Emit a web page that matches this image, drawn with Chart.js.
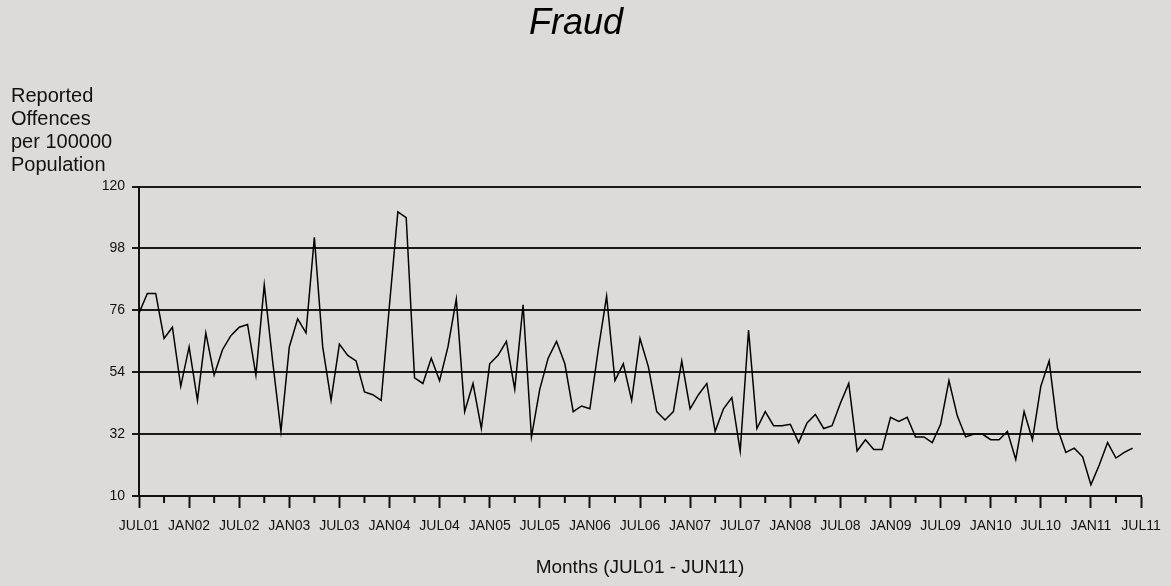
<!DOCTYPE html>
<html lang="en">

<head>
    <meta charset="UTF-8">
    <meta name="viewport" content="width=device-width, initial-scale=1.0">
    <title>Fraud</title>
    <style>
        body {
            margin: 0;
            background-color: #dcdbd9;
        }

        .chart-box {
            position: relative;
            width: 1171px;
            height: 586px;
        }
    </style>
</head>

<body>
    <div class="chart-box">
        <canvas id="myChart"></canvas>
    </div>

    <script src="https://cdn.jsdelivr.net/npm/chart.js"></script>
    <script>
        // monthly values JUL01 .. JUN11
        var offences = [
            75, 82, 82, 66, 70, 49, 63, 44, 68, 53,
            62, 67, 70, 71, 53, 85, 58, 33, 63, 73,
            68, 102, 63, 44, 64, 60, 58, 47, 46, 44,
            78, 111, 109, 52, 50, 59, 51, 63, 80, 40,
            50, 34, 57, 60, 65, 48, 78, 31, 48, 59,
            65, 57, 40, 42, 41, 62, 81, 51, 57, 44,
            66, 56, 40, 37, 40, 58, 41, 46, 50, 33,
            41, 45, 26, 69, 34, 40, 35, 35, 35.5, 29,
            36, 39, 34, 35, 43, 50, 26, 30, 26.5, 26.5,
            38, 36.5, 38, 31, 31, 29, 35.5, 51, 38.5, 31,
            32, 32, 30, 30, 33, 23, 40, 30, 49, 58,
            34, 25.5, 27, 24, 14, 21, 29, 23.5, 25.5, 27
        ];

        // labels under the long ticks, every 6 months
        var tickLabels = ['JUL01', 'JAN02', 'JUL02', 'JAN03', 'JUL03', 'JAN04', 'JUL04',
            'JAN05', 'JUL05', 'JAN06', 'JUL06', 'JAN07', 'JUL07', 'JAN08', 'JUL08',
            'JAN09', 'JUL09', 'JAN10', 'JUL10', 'JAN11', 'JUL11'];

        var yTicks = [10, 32, 54, 76, 98, 120];
        var yTitle = ['Reported', 'Offences', 'per 100000', 'Population'];

        var points = offences.map(function (v, i) {
            return { x: i, y: v };
        });

        Chart.defaults.font.family = "'Liberation Sans', Arial, sans-serif";
        Chart.defaults.color = '#111';

        // short ticks between the labelled ones
        const minorTicks = {
            id: 'minorTicks',
            afterDraw(chart) {
                const xs = chart.scales.x;
                const ctx = chart.ctx;
                const y0 = chart.chartArea.bottom;
                ctx.save();
                ctx.strokeStyle = '#111';
                ctx.lineWidth = 2;
                for (let m = 3; m < 120; m += 6) {
                    const px = xs.getPixelForValue(m);
                    ctx.beginPath();
                    ctx.moveTo(px, y0);
                    ctx.lineTo(px, y0 + 7);
                    ctx.stroke();
                }
                ctx.restore();
            }
        };

        const ctx = document.getElementById('myChart');
        const myChart = new Chart(ctx, {
            type: 'line',
            data: {
                datasets: [{
                    label: 'Fraud',
                    data: points,
                    borderColor: '#000',
                    borderWidth: 1.5,
                    pointRadius: 0,
                    tension: 0,
                    fill: false
                }]
            },
            options: {
                responsive: true,
                maintainAspectRatio: false,
                animation: false,
                layout: {
                    padding: { top: 4, left: 11, right: 30, bottom: 0 }
                },
                plugins: {
                    legend: { display: false },
                    tooltip: { enabled: false },
                    title: {
                        display: true,
                        text: 'Fraud',
                        color: '#000',
                        font: { size: 36, style: 'italic', weight: 'normal', lineHeight: 1.1 },
                        padding: { top: 0, bottom: 0 }
                    },
                    subtitle: {
                        display: true,
                        text: yTitle,
                        align: 'start',
                        color: '#111',
                        font: { size: 20, lineHeight: 1.15 },
                        padding: { top: 41, bottom: 10 }
                    }
                },
                scales: {
                    x: {
                        type: 'linear',
                        min: 0,
                        max: 120,
                        afterFit: function (scale) {
                            scale.height = 90;
                        },
                        ticks: {
                            stepSize: 6,
                            padding: 10,
                            maxRotation: 0,
                            autoSkip: false,
                            font: { size: 14 },
                            callback: function (value) {
                                return tickLabels[value / 6];
                            }
                        },
                        grid: {
                            drawOnChartArea: false,
                            drawTicks: true,
                            tickLength: 12,
                            tickColor: '#111',
                            tickWidth: 2
                        },
                        border: { display: true, color: '#111', width: 2 },
                        title: {
                            display: true,
                            text: 'Months (JUL01 - JUN11)',
                            font: { size: 19 },
                            padding: { top: 0, bottom: 7 }
                        }
                    },
                    y: {
                        min: yTicks[0],
                        max: yTicks[yTicks.length - 1],
                        afterFit: function (scale) {
                            scale.width = 128;
                        },
                        afterBuildTicks: function (scale) {
                            scale.ticks = yTicks.map(function (v) { return { value: v }; });
                        },
                        ticks: {
                            padding: 7,
                            font: { size: 14 }
                        },
                        grid: {
                            color: '#1a1a1a',
                            lineWidth: 2,
                            tickLength: 7,
                            tickColor: '#1a1a1a'
                        },
                        border: { display: true, color: '#111', width: 2 }
                    }
                }
            },
            plugins: [minorTicks]
        });
    </script>
</body>

</html>
